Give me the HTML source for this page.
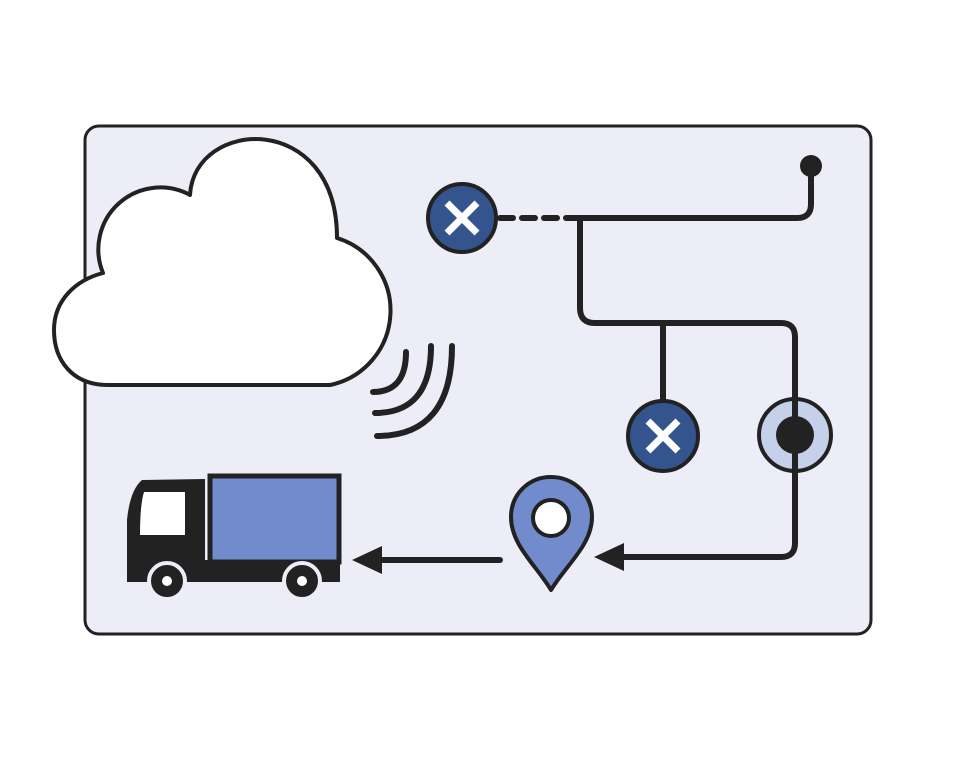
<!DOCTYPE html>
<html><head><style>html,body{margin:0;padding:0;background:#fff;width:960px;height:761px;overflow:hidden}</style></head>
<body>
<svg width="960" height="761" viewBox="0 0 960 761" xmlns="http://www.w3.org/2000/svg">
<rect x="85" y="126" width="786" height="508" rx="14" fill="#ecedf7" stroke="#222" stroke-width="3"/>
<!-- cloud -->
<path d="M108,385 C72,385 54,360 54,330 C54,300 76,280 103,273 A62,62 0 0 1 190,195 C194,118 337,110 337,238 A76,76 0 0 1 330,385 Z" fill="#fff" stroke="#222" stroke-width="4" stroke-linejoin="round"/>
<!-- signal -->
<g fill="none" stroke="#222" stroke-width="6" stroke-linecap="round">
<path d="M406,352 Q406,392 373,392"/>
<path d="M431,346 Q431,413 375,413"/>
<path d="M452,346 Q452,436 377,436"/>
</g>
<!-- network lines -->
<g fill="none" stroke="#222" stroke-width="6" stroke-linecap="round" stroke-linejoin="round">
<path d="M500,218 H580" stroke-dasharray="13,9"/>
<path d="M580,218 H797 Q811,218 811,204 V168"/>
<path d="M580,218 V308 Q580,323 595,323 H781 Q795,323 795,337 V543 Q795,557 781,557 H620"/>
<path d="M663,323 V402"/>
<path d="M500,560 H378"/>
</g>
<circle cx="811" cy="166" r="11" fill="#222"/>
<polygon points="594,557 624,543 624,571" fill="#222"/>
<polygon points="352,560 382,546 382,574" fill="#222"/>
<!-- X nodes -->
<g>
<circle cx="462" cy="218" r="34" fill="#34548e" stroke="#222" stroke-width="4"/>
<path d="M447,203 L477,233 M477,203 L447,233" stroke="#fff" stroke-width="7"/>
<circle cx="663" cy="436" r="35" fill="#34548e" stroke="#222" stroke-width="4"/>
<path d="M648,421 L678,451 M678,421 L648,451" stroke="#fff" stroke-width="7"/>
</g>
<circle cx="795" cy="435" r="36" fill="#c5d1ea" stroke="#222" stroke-width="4"/>
<circle cx="795" cy="435" r="19" fill="#222"/>
<path d="M795,400 V470" stroke="#222" stroke-width="6"/>
<!-- pin -->
<path d="M551,590 C536,565 511,545 511,517 C511,494 529,477 551,477 C573,477 592,494 592,517 C592,545 566,565 551,590 Z" fill="#718bcc" stroke="#222" stroke-width="4" stroke-linejoin="round"/>
<circle cx="551" cy="518" r="18" fill="#fff" stroke="#222" stroke-width="4"/>
<!-- truck -->
<rect x="210" y="476" width="129" height="86" fill="#718bcc" stroke="#222" stroke-width="5"/>
<path d="M127,582 V520 Q130,490 142,480 L205,479 V560 H340 V582 Z" fill="#222"/>
<path d="M144,492 H185 V535 H140 Q140,505 144,492 Z" fill="#fff"/>
<circle cx="167" cy="581" r="18" fill="#222" stroke="#ecedf7" stroke-width="4"/>
<circle cx="167" cy="581" r="5" fill="#fff"/>
<circle cx="302" cy="581" r="18" fill="#222" stroke="#ecedf7" stroke-width="4"/>
<circle cx="302" cy="581" r="5" fill="#fff"/>
</svg>
</body></html>
